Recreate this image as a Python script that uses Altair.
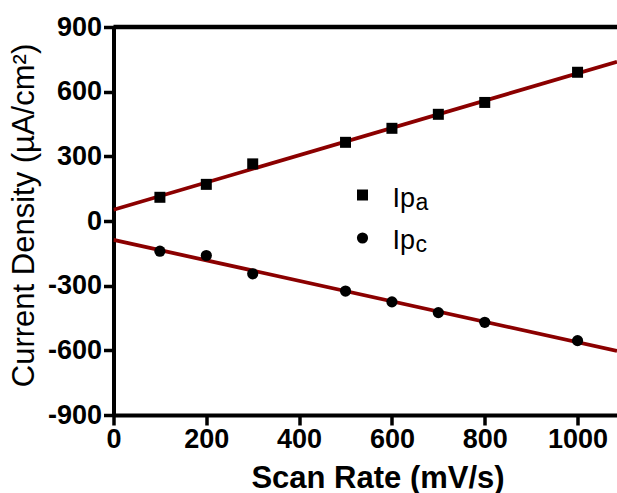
import altair as alt
import pandas as pd

scan_rate = [100, 200, 300, 500, 600, 700, 800, 1000]
ipa = [110, 170, 265, 365, 430, 495, 550, 690]
ipc = [-140, -160, -245, -325, -375, -425, -470, -555]

x_ticks = [0, 200, 400, 600, 800, 1000]
y_ticks = [-900, -600, -300, 0, 300, 600, 900]
x_max = 1085

df = pd.DataFrame({"x": scan_rate, "ipa": ipa, "ipc": ipc})

FONT = "Liberation Sans"
RED = "#8B0000"

xscale = alt.Scale(domain=[0, x_max], nice=False, zero=False)
yscale = alt.Scale(domain=[-900, 900], nice=False)

xax = alt.Axis(values=x_ticks, title="Scan Rate (mV/s)", grid=False, labelFont=FONT,
               labelFontSize=27, labelFontWeight="bold", titleFont=FONT, titleFontSize=31,
               titleFontWeight="bold", domainColor="black", domainWidth=4, tickColor="black",
               tickWidth=3.5, tickSize=10, labelColor="black", titleColor="black",
               labelPadding=1, labelFlush=False, labelOverlap=False,
               labelExpr="'' + datum.value", titleBaseline="alphabetic",
               titleX=264, titleY=72)
yax = alt.Axis(values=y_ticks, title="Current Density (µA/cm²)", grid=False, labelFont=FONT,
               labelFontSize=27, labelFontWeight="bold", titleFont=FONT, titleFontSize=31,
               titleFontWeight="normal", domainColor="black", domainWidth=4, tickColor="black",
               tickWidth=3.5, tickSize=10, labelColor="black", titleColor="black",
               labelPadding=2, labelFlush=False, labelOverlap=False,
               labelExpr="'' + datum.value", titleBaseline="alphabetic",
               titleX=-80.5, titleY=188)

base = alt.Chart(df)

pts_a = base.mark_point(shape="square", filled=True, color="black", size=121, opacity=1).encode(
    x=alt.X("x:Q", scale=xscale, axis=xax), y=alt.Y("ipa:Q", scale=yscale, axis=yax))
pts_c = base.mark_point(shape="circle", filled=True, color="black", size=125, opacity=1).encode(
    x=alt.X("x:Q", scale=xscale), y=alt.Y("ipc:Q", scale=yscale))

fit_a = base.transform_regression("x", "ipa", extent=[0, x_max]).mark_line(
    color=RED, strokeWidth=3.8, clip=True).encode(x="x:Q", y="ipa:Q")
fit_c = base.transform_regression("x", "ipc", extent=[0, x_max]).mark_line(
    color=RED, strokeWidth=3.8, clip=True).encode(x="x:Q", y="ipc:Q")

top_rule = alt.Chart(pd.DataFrame({"y": [900]})).mark_rule(color="black", strokeWidth=4.5).encode(
    y=alt.Y("y:Q", scale=yscale))

# legend (pixel positions inside the plot area)
one = pd.DataFrame({"a": [0]})
leg_sq = alt.Chart(one).mark_point(shape="square", filled=True, color="black",
    size=121, opacity=1).encode(x=alt.value(249), y=alt.value(168))
leg_ci = alt.Chart(one).mark_point(shape="circle", filled=True, color="black",
    size=125, opacity=1).encode(x=alt.value(249), y=alt.value(211))
leg_t1 = alt.Chart(pd.DataFrame({"t": ["Ip"]})).mark_text(font=FONT, fontSize=27, align="left",
    baseline="alphabetic", color="black").encode(text="t:N", x=alt.value(279), y=alt.value(180))
leg_s1 = alt.Chart(pd.DataFrame({"t": ["a"]})).mark_text(font=FONT, fontSize=23, align="left",
    baseline="alphabetic", color="black").encode(text="t:N", x=alt.value(302), y=alt.value(183))
leg_t2 = alt.Chart(pd.DataFrame({"t": ["Ip"]})).mark_text(font=FONT, fontSize=27, align="left",
    baseline="alphabetic", color="black").encode(text="t:N", x=alt.value(279), y=alt.value(222))
leg_s2 = alt.Chart(pd.DataFrame({"t": ["c"]})).mark_text(font=FONT, fontSize=23, align="left",
    baseline="alphabetic", color="black").encode(text="t:N", x=alt.value(302), y=alt.value(225))

chart = alt.layer(fit_a, fit_c, pts_a, pts_c, top_rule, leg_sq, leg_ci, leg_t1, leg_s1, leg_t2, leg_s2).properties(
    width=503.5, height=388, autosize=alt.AutoSizeParams(type="none"),
    padding={"left": 113.5, "top": 27, "right": 0, "bottom": 78}, background="white"
).configure_view(stroke=None)

chart.save("out.html", embed_options={"renderer": "svg", "actions": False})
